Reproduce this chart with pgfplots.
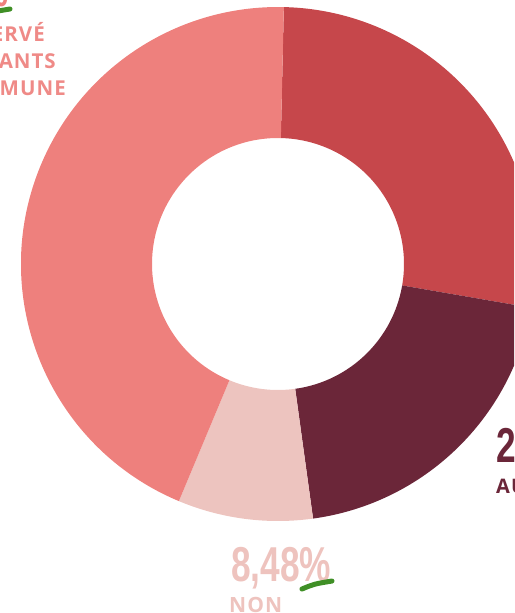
\documentclass[border=0pt]{standalone}
\usepackage{pgfplots}
\usepackage{pgfplotstable}
\pgfplotsset{compat=1.18}
\usepackage{fontspec}
\setmainfont{Open Sans}
\newfontfamily\numfont{Liberation Sans}
\newfontfamily\lblfont{Open Sans}[LetterSpace=5]
\definecolor{cDarkRed}{HTML}{C6474B}
\definecolor{cMaroon}{HTML}{6B2639}
\definecolor{cPink}{HTML}{EDC4BF}
\definecolor{cSalmon}{HTML}{EE807D}
\definecolor{cSalmonTxt}{HTML}{EF8A87}
\definecolor{cPinkTxt}{HTML}{EEC3BE}
\definecolor{cGreen}{HTML}{3F8F26}
\pgfplotstableread{
label value col
Oui      27.36 cDarkRed
Autre    20.10 cMaroon
Non      8.48  cPink
Reserve  44.06 cSalmon
}\datatable
\begin{document}
\begin{tikzpicture}
\useasboundingbox (0pt,0pt) rectangle (514pt,-613pt);
\clip (0pt,0pt) rectangle (514pt,-613pt);
\begin{axis}[at={(278pt,-264pt)}, anchor=center, width=514pt, height=514pt,
  scale only axis, xmin=-1, xmax=1, ymin=-1, ymax=1, hide axis]
\def\startang{88.7}
\pgfplotsforeachungrouped \i in {0,...,3}{%
  \pgfplotstablegetelem{\i}{value}\of\datatable \let\slval\pgfplotsretval
  \pgfplotstablegetelem{\i}{col}\of\datatable \let\slcol\pgfplotsretval
  \pgfmathsetmacro\endang{\startang - 3.6*\slval}%
  \pgfmathsetmacro\backang{\endang + 180}%
  \edef\temp{\noexpand\fill[\slcol] (axis cs:0,0) ++(\startang:257pt)
     arc[start angle=\startang, end angle=\endang, radius=257pt]
     -- ++(\backang:131pt)
     arc[start angle=\endang, end angle=\startang, radius=126pt] -- cycle;}%
  \temp
  \global\let\startang\endang
}
\end{axis}
% labels
\node[anchor=base west, inner sep=0, text=cPinkTxt] at (231pt,-581pt)
  {\scalebox{0.72}[1]{\numfont\bfseries\fontsize{49pt}{49pt}\selectfont 8,48\%}};
\node[anchor=base west, inner sep=0, text=cPinkTxt] at (229pt,-612pt)
  {\lblfont\bfseries\fontsize{21pt}{21pt}\selectfont NON};
\node[anchor=base east, inner sep=0, text=cSalmon] at (9pt,-6pt)
  {\scalebox{0.72}[1]{\numfont\bfseries\fontsize{49pt}{49pt}\selectfont 44,06\%}};
\node[anchor=base east, inner sep=0, text=cSalmonTxt] at (45pt,-41.5pt)
  {\lblfont\bfseries\fontsize{20.5pt}{20.5pt}\selectfont PRIX RÉSERVÉ};
\node[anchor=base east, inner sep=0, text=cSalmonTxt] at (56pt,-68.5pt)
  {\lblfont\bfseries\fontsize{20.5pt}{20.5pt}\selectfont AUX HABITANTS};
\node[anchor=base east, inner sep=0, text=cSalmonTxt] at (66pt,-95pt)
  {\lblfont\bfseries\fontsize{20.5pt}{20.5pt}\selectfont DE LA COMMUNE};
\node[anchor=base west, inner sep=0, text=cMaroon] at (496pt,-462pt)
  {\scalebox{0.72}[1]{\numfont\bfseries\fontsize{49pt}{49pt}\selectfont 20,10\%}};
\node[anchor=base west, inner sep=0, text=cMaroon] at (496pt,-493pt)
  {\lblfont\bfseries\fontsize{20pt}{20pt}\selectfont AUTRE};
% decorative swooshes
\draw[cGreen, line width=5pt, line cap=round] (302pt,-589pt) .. controls (314pt,-584pt) .. (332pt,-581pt);
\draw[cGreen, line width=5pt, line cap=round] (-24pt,-14pt) .. controls (-8pt,-12pt) .. (10pt,-9pt);
\end{tikzpicture}
\end{document}
